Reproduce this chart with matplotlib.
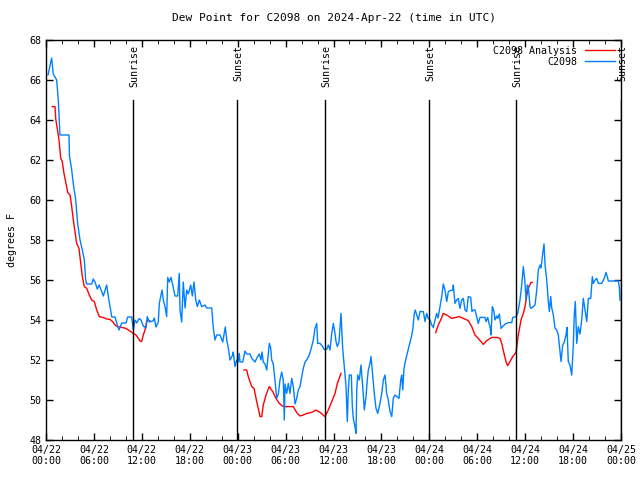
import numpy as np
import matplotlib
matplotlib.use("Agg")
import matplotlib.pyplot as plt

# hours since 2024-04-22 00:00 UTC
obs_h = [0.25, 0.71, 0.91, 1.34, 1.54, 1.75, 2.88, 2.94, 3.22, 3.42, 3.72, 3.97, 4.26, 4.55, 4.80,
         4.97, 5.10, 5.72, 5.92, 6.14, 6.42, 6.67, 7.18, 7.60, 7.80, 8.23, 8.64, 8.85, 9.14, 9.48,
         10.02, 10.23, 10.73, 10.93, 11.14, 11.36, 11.65, 11.9, 12.18, 12.52, 12.68, 12.94, 13.40,
         13.56, 13.77, 14.06, 14.19, 14.53, 14.69, 14.90, 15.11, 15.24, 15.44, 15.65, 15.87, 16.15,
         16.49, 16.69, 16.78, 16.99, 17.19, 17.41, 17.62, 17.82, 18.12, 18.32, 18.53, 18.75, 18.95,
         19.20, 19.50, 19.91, 20.12, 20.75, 20.95, 21.16, 21.37, 21.79, 22.13, 22.45, 22.63, 22.83,
         23.04, 23.38, 23.45, 23.67, 23.88, 24.04, 24.20, 24.29, 24.63, 24.92, 25.13, 25.54, 25.76,
         26.17, 26.38, 26.71, 26.92, 27.05, 27.21, 27.42, 27.64, 27.96, 28.14, 28.26, 28.46, 28.67,
         28.89, 29.09, 29.30, 29.51, 29.71, 29.84, 29.93, 30.14, 30.34, 30.55, 30.77, 30.97, 31.18,
         31.39, 31.59, 31.81, 32.02, 32.22, 32.43, 32.64, 32.97, 33.27, 33.47, 33.68, 33.90, 34.02,
         34.31, 34.65, 34.81, 35.15, 35.35, 35.56, 35.78, 35.98, 36.19, 36.31, 36.48, 36.69, 36.94,
         37.15, 37.35, 37.57, 37.73, 37.86, 37.98, 38.23, 38.36, 38.48, 38.69, 38.82, 38.91, 39.03,
         39.23, 39.44, 39.66, 39.86, 40.07, 40.23, 40.36, 40.57, 40.70, 40.91, 41.11, 41.32, 41.54,
         41.82, 42.04, 42.24, 42.45, 42.66, 42.86, 43.08, 43.29, 43.49, 43.70, 43.95, 44.20, 44.42,
         44.54, 44.67, 44.83, 45.04, 45.24, 45.49, 45.71, 45.92, 46.12, 46.24, 46.42, 46.62, 46.83,
         47.25, 47.46, 47.67, 47.87, 48.08, 48.30, 48.50, 48.71, 48.92, 49.09, 49.34, 49.55, 49.75,
         49.96, 50.18, 50.38, 50.59, 50.93, 51.00, 51.21, 51.43, 51.63, 51.84, 52.05, 52.25, 52.47,
         52.68, 52.88, 53.18, 53.34, 53.51, 53.72, 53.93, 54.13, 54.34, 54.97, 55.10, 55.31, 55.47,
         55.60, 55.72, 55.89, 56.10, 56.22, 56.44, 56.56, 56.76, 56.98, 57.26, 57.48, 57.89, 58.32,
         58.44, 58.85, 59.07, 59.35, 59.57, 59.77, 59.95, 60.11, 60.27, 60.39, 60.61, 60.73, 61.02,
         61.23, 61.45, 61.65, 61.86, 61.99, 62.20, 62.36, 62.49, 62.70, 62.90, 63.03, 63.20, 63.33,
         63.53, 63.74, 63.95, 64.15, 64.36, 64.49, 64.70, 64.90, 65.11, 65.24, 65.40, 65.61, 65.83,
         66.03, 66.15, 66.28, 66.46, 66.65, 66.87, 67.08, 67.28, 67.49, 67.71, 67.91, 68.21, 68.41,
         68.53, 68.75, 68.96, 69.16, 69.58, 69.91, 70.12, 70.28, 70.41, 71.66, 71.79, 71.87]
obs_v = [66.25, 67.1, 66.3, 66.0, 65.0, 63.25, 63.25, 62.2, 61.5, 60.8, 60.0, 58.8, 58.0, 57.5, 57.0,
         56.0, 55.8, 55.8, 56.05, 55.9, 55.55, 55.75, 55.2, 55.75, 55.2, 54.15, 54.15, 53.85, 53.5, 53.85,
         53.85, 54.15, 54.15, 53.5, 54.0, 53.85, 54.07, 54.0, 53.7, 53.6, 54.17, 53.9, 53.95,
         54.1, 53.65, 53.9, 54.83, 55.5, 55.0, 54.67, 54.17, 56.13, 55.9, 56.13, 55.75, 55.2,
         55.2, 56.33, 54.5, 53.9, 55.9, 54.6, 55.5, 55.3, 55.75, 55.2, 55.9, 55.0, 54.67,
         55.0, 54.67, 54.75, 54.6, 54.6, 53.6, 53.0, 53.25, 53.25, 52.9, 53.65, 53.0, 52.6,
         52.0, 52.25, 52.4, 51.67, 52.0, 51.9, 52.33, 51.9, 51.9, 52.45, 52.3, 52.3, 52.08,
         51.9, 52.08, 52.3, 52.0, 52.4, 51.9, 51.8, 51.5, 52.83, 52.6, 52.0, 51.8, 51.0,
         50.08, 50.3, 51.0, 51.4, 51.0, 49.0, 50.8, 50.33, 50.83, 50.33, 51.08, 50.67, 49.8,
         50.08, 50.5, 50.67, 51.17, 51.58, 51.9, 52.0, 52.25, 52.67, 53.0, 53.58, 53.83, 52.83,
         52.83, 52.67, 52.53, 52.53, 52.75, 52.5, 53.33, 53.83, 53.33, 52.92, 52.67, 52.9, 54.33,
         52.58, 51.67, 50.67, 48.92, 50.5, 51.25, 51.25, 49.67, 49.08, 48.67, 48.33, 50.5, 51.25,
         51.0, 51.75, 50.67, 49.5, 50.17, 51.0, 51.5, 51.83, 52.17, 51.2, 50.33, 49.58, 49.33,
         49.83, 50.33, 51.0, 51.25, 50.33, 50.0, 49.42, 49.17, 50.08, 50.25, 50.17, 50.08, 51.0,
         51.25, 50.5, 51.58, 52.0, 52.33, 52.75, 53.08, 53.5, 54.33, 54.5, 54.25, 54.0, 54.42,
         54.42, 53.92, 54.33, 54.08, 54.0, 53.75, 53.63, 54.0, 54.33, 54.1, 54.67, 55.17, 55.8,
         55.5, 54.92, 55.42, 55.47, 55.5, 55.75, 54.83, 55.0, 55.08, 54.58, 55.0, 55.08, 54.5,
         54.42, 55.17, 55.13, 54.42, 54.5, 54.5, 54.17, 53.83, 54.13, 54.13, 53.92, 54.13, 53.83,
         53.67, 53.25, 54.67, 54.42, 54.0, 54.2, 54.08, 54.3, 53.58, 53.7, 53.8, 53.87, 53.87,
         54.12, 54.17, 54.33, 55.0, 55.75, 56.67, 56.0, 55.0, 55.75, 55.67, 54.67, 54.58, 54.67,
         54.75, 55.5, 56.5, 56.75, 56.6, 57.33, 57.8, 56.75, 56.0, 54.92, 54.42, 55.17, 54.6,
         54.25, 53.58, 53.5, 53.25, 52.42, 51.92, 52.75, 52.9, 53.25, 53.63, 51.92, 51.75, 51.25,
         52.75, 54.25, 54.92, 52.83, 53.67, 53.3, 54.0, 55.08, 54.5, 53.92, 55.08, 55.08, 56.17,
         55.83, 56.0, 56.08, 55.83, 55.83, 56.08, 56.38, 56.17, 55.95, 55.95, 55.67, 55.0]

# analysis, three separate stretches
ana1_h = [0.79, 1.13, 1.21, 1.41, 1.63, 1.84, 2.04, 2.25, 2.50, 2.72, 3.01, 3.22, 3.42, 3.63, 3.84,
          4.13, 4.35, 4.55, 4.80, 5.10, 5.42, 5.72, 6.05, 6.35, 6.67, 7.18, 7.60, 8.01, 8.35, 8.64,
          8.93, 9.48, 10.02, 10.31, 10.61, 10.93, 11.27, 11.56, 11.77, 11.98, 12.18, 12.40, 12.61,
          12.81, 13.02]
ana1_v = [64.67, 64.67, 64.08, 63.58, 63.0, 62.08, 61.92, 61.33, 60.83, 60.38, 60.25, 59.67, 59.0,
          58.42, 57.83, 57.58, 56.83, 56.17, 55.67, 55.58, 55.25, 55.0, 54.92, 54.5, 54.17, 54.12,
          54.05, 54.03, 53.92, 53.75, 53.67, 53.63, 53.58, 53.5, 53.42, 53.33, 53.25, 53.08, 52.95,
          52.92, 53.25, 53.5, 53.92, 54.0, 53.95]
ana2_h = [24.79, 25.13, 25.33, 25.76, 26.05, 26.38, 26.58, 26.80, 27.01, 27.21, 27.55, 27.96, 28.39,
          28.80, 29.21, 29.71, 30.34, 30.97, 31.39, 31.81, 32.22, 32.64, 33.27, 33.81, 34.31, 34.94,
          35.35, 35.78, 36.19, 36.48, 36.94]
ana2_v = [51.5, 51.5, 51.17, 50.67, 50.58, 49.92, 49.58, 49.17, 49.17, 49.75, 50.25, 50.67, 50.42,
          50.08, 49.83, 49.67, 49.67, 49.67, 49.37, 49.2, 49.25, 49.33, 49.38, 49.5, 49.38, 49.17,
          49.5, 49.92, 50.33, 50.83, 51.33]
ana3_h = [48.80, 49.12, 49.42, 49.75, 50.18, 50.80, 51.21, 51.75, 52.25, 52.88, 53.31, 53.72, 54.13,
          54.76, 55.18, 55.81, 56.44, 56.85, 57.06, 57.35, 57.60, 57.81, 58.10, 58.44, 58.85, 59.14,
          59.48, 59.77, 59.98, 60.19, 60.39, 60.73, 60.89]
ana3_v = [53.37, 53.75, 54.0, 54.33, 54.25, 54.08, 54.12, 54.17, 54.08, 53.97, 53.67, 53.25, 53.08,
          52.78, 52.97, 53.13, 53.13, 53.08, 52.83, 52.33, 51.92, 51.72, 51.92, 52.17, 52.37, 53.25,
          54.0, 54.33, 54.67, 55.2, 55.58, 55.88, 55.88]

sun_h = [10.9, 23.9, 34.9, 47.9, 58.8, 71.95]
sun_lbl = ['Sunrise', 'Sunset', 'Sunrise', 'Sunset', 'Sunrise', 'Sunset']

tick_h = [0, 6, 12, 18, 24, 30, 36, 42, 48, 54, 60, 66, 72]
tick_lbl = ['04/22\n00:00', '04/22\n06:00', '04/22\n12:00', '04/22\n18:00',
            '04/23\n00:00', '04/23\n06:00', '04/23\n12:00', '04/23\n18:00',
            '04/24\n00:00', '04/24\n06:00', '04/24\n12:00', '04/24\n18:00',
            '04/25\n00:00']

plt.rcParams['font.family'] = ['DejaVu Sans Mono']
plt.rcParams['font.size'] = 7.2

fig = plt.figure(figsize=(6.4, 4.8), dpi=100)
ax = fig.add_axes([46 / 640, 40 / 480, 575 / 640, 400 / 480])

red = '#ff0000'
blue = '#0080ff'
ax.plot(ana1_h, ana1_v, color=red, lw=1, label='C2098 Analysis')
ax.plot(ana2_h, ana2_v, color=red, lw=1)
ax.plot(ana3_h, ana3_v, color=red, lw=1)
ax.plot(obs_h, obs_v, color=blue, lw=1, label='C2098')

for h, s in zip(sun_h, sun_lbl):
    ax.axvline(h, ymin=0, ymax=0.85, color='black', lw=1)
    ax.text(h + 0.2, 67.75, s, rotation=90, ha='center', va='top')

ax.set_xlim(0, 72)
ax.set_ylim(48, 68)
ax.set_xticks(tick_h)
ax.set_xticklabels(tick_lbl)
ax.set_xticks(np.arange(0, 73, 2), minor=True)
ax.set_yticks(np.arange(48, 69, 2))
ax.tick_params(direction='in', top=True, right=True, length=5, width=1)
ax.tick_params(which='minor', direction='in', top=True, length=3)
for sp in ax.spines.values():
    sp.set_linewidth(1)

ax.set_ylabel('degrees F', labelpad=9)
ax.set_title('Dew Point for C2098 on 2024-Apr-22 (time in UTC)', fontsize=8, pad=14)

ax.legend(loc='upper right', frameon=False, markerfirst=False, handlelength=3,
          borderaxespad=0.2, labelspacing=0.1, handletextpad=0.8)

fig.savefig('out.png', dpi=100)
